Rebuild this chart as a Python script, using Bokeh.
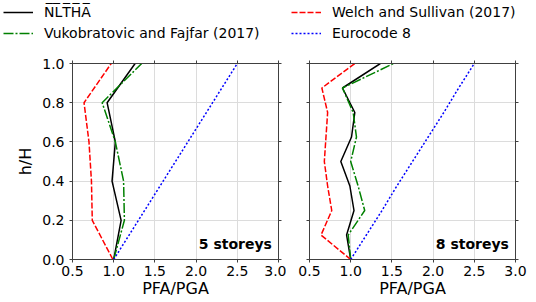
from bokeh.plotting import figure
from bokeh.models import (Legend, LegendItem, LinearAxis, FixedTicker, PrintfTickFormatter,
                          CustomJSTickFormatter, Label, Range1d)
from bokeh.layouts import column, row
from bokeh.embed import file_html
from bokeh.resources import INLINE

FONT = "DejaVu Sans"

# ---- data ----
x_ticks = [0.5, 1.0, 1.5, 2.0, 2.5, 3.0]
y_ticks = [0.0, 0.2, 0.4, 0.6, 0.8, 1.0]

levels_5 = [0.0, 0.2, 0.4, 0.6, 0.8, 1.0]
nltha_5 = [1.00, 1.09, 0.98, 1.02, 0.92, 1.26]
vf_5 = [1.00, 1.13, 1.12, 1.02, 0.86, 1.34]
ws_5 = [0.99, 0.74, 0.73, 0.70, 0.64, 0.97]
ec8_5 = [1.00, 1.30, 1.60, 1.90, 2.20, 2.50]

levels_8 = [0.0, 0.125, 0.25, 0.375, 0.5, 0.625, 0.75, 0.875, 1.0]
nltha_8 = [1.00, 0.95, 1.04, 0.99, 0.88, 1.01, 1.05, 0.90, 1.36]
vf_8 = [1.00, 0.97, 1.17, 1.09, 1.00, 1.07, 1.03, 0.90, 1.52]
ws_8 = [1.00, 0.64, 0.77, 0.72, 0.68, 0.70, 0.72, 0.65, 1.05]
ec8_8 = [1.00, 1.19, 1.38, 1.56, 1.75, 1.94, 2.13, 2.31, 2.50]

names = ["N\u0305L\u0305T\u0305H\u0305A\u0305", "Vukobratovic and Fajfar (2017)",
         "Welch and Sullivan (2017)", "Eurocode 8"]
styles = [
    dict(line_color="black", line_width=1.5, line_dash="solid"),
    dict(line_color="green", line_width=1.5, line_dash="10 2 2 2"),
    dict(line_color="red", line_width=1.5, line_dash="6 2"),
    dict(line_color="blue", line_width=1.5, line_dash="2 2"),
]

AX = "#404040"


def hidden_axis():
    a = LinearAxis(formatter=CustomJSTickFormatter(code="return ''"))
    return a


def style_axis(a, ticks):
    a.ticker = FixedTicker(ticks=ticks)
    a.axis_line_color = AX
    a.axis_line_width = 1
    a.major_tick_line_color = AX
    a.major_tick_out = 3
    a.major_tick_in = 0
    a.minor_tick_line_color = None
    a.major_label_text_font = FONT
    a.major_label_text_font_size = "14px"
    a.major_label_text_color = "black"
    a.axis_label_text_font = FONT
    a.axis_label_text_font_size = "16px"
    a.axis_label_text_font_style = "normal"
    a.axis_label_text_color = "black"


def panel(levels, series, width, left, right, label, show_ylabels):
    p = figure(width=width, height=252, x_range=Range1d(0.5, 3.0), y_range=Range1d(0.0, 1.0),
               output_backend="svg", toolbar_location=None,
               min_border_left=left, min_border_right=right, min_border_top=13, min_border_bottom=43)
    p.outline_line_color = AX
    style_axis(p.xaxis[0], x_ticks)
    p.xaxis[0].formatter = PrintfTickFormatter(format="%.1f")
    p.xaxis[0].major_label_standoff = 3
    p.xaxis[0].axis_label = "PFA/PGA"
    p.xaxis[0].axis_label_standoff = 0
    style_axis(p.yaxis[0], y_ticks)
    if show_ylabels:
        p.yaxis[0].formatter = PrintfTickFormatter(format="%.1f")
        p.yaxis[0].major_label_standoff = 5
        p.yaxis[0].axis_label = "h/H"
        p.yaxis[0].axis_label_standoff = 4
    else:
        p.yaxis[0].formatter = CustomJSTickFormatter(code="return ''")
        p.yaxis[0].major_label_standoff = 0
    top = hidden_axis()
    style_axis(top, x_ticks)
    top.major_label_standoff = 0
    p.add_layout(top, "above")
    rt = hidden_axis()
    style_axis(rt, y_ticks)
    rt.major_label_standoff = 0
    p.add_layout(rt, "right")
    p.xgrid.ticker = FixedTicker(ticks=x_ticks)
    p.ygrid.ticker = FixedTicker(ticks=y_ticks)
    p.grid.grid_line_color = "#dcdcdc"
    p.grid.grid_line_width = 1
    for vals, st in zip(series, styles):
        p.line(x=vals, y=levels, **st)
    p.add_layout(Label(x=2.92, y=0.077, text=label, text_align="right", text_baseline="alphabetic",
                       text_font=FONT, text_font_size="14px", text_font_style="bold",
                       text_color="black"))
    return p


p1 = panel(levels_5, [nltha_5, vf_5, ws_5, ec8_5], 286, 72, 8, "5 storeys", True)
p2 = panel(levels_8, [nltha_8, vf_8, ws_8, ec8_8], 536 - 286, 23, 21, "8 storeys", False)

lf = figure(width=536, height=50, x_axis_location=None, y_axis_location=None,
            x_range=Range1d(0, 1), y_range=Range1d(0, 1),
            toolbar_location=None, output_backend="svg", min_border=0,
            min_border_left=0, min_border_right=0, min_border_top=0, min_border_bottom=0)
lf.outline_line_color = None
lf.xgrid.visible = False
lf.ygrid.visible = False
# legend-only renderers (no visible data: a single undefined point)
nan = float("nan")
dummies = [lf.line(x=[nan, nan], y=[nan, nan], **st) for st in styles]


def make_legend(idx, loc):
    items = [LegendItem(label=names[i], renderers=[dummies[i]]) for i in idx]
    return Legend(items=items, location=loc, orientation="vertical", padding=0, margin=0,
                  spacing=3, glyph_width=30, glyph_height=18, label_height=18,
                  label_standoff=11, border_line_color=None, background_fill_alpha=0,
                  label_text_font=FONT, label_text_font_size="14px", label_text_color="black")


lf.add_layout(make_legend([0, 1], (3, 8)))
lf.add_layout(make_legend([2, 3], (291, 8)))

layout = column(lf, row(p1, p2, spacing=0), spacing=0)

with open("out.html", "w") as f:
    f.write(file_html(layout, INLINE))
